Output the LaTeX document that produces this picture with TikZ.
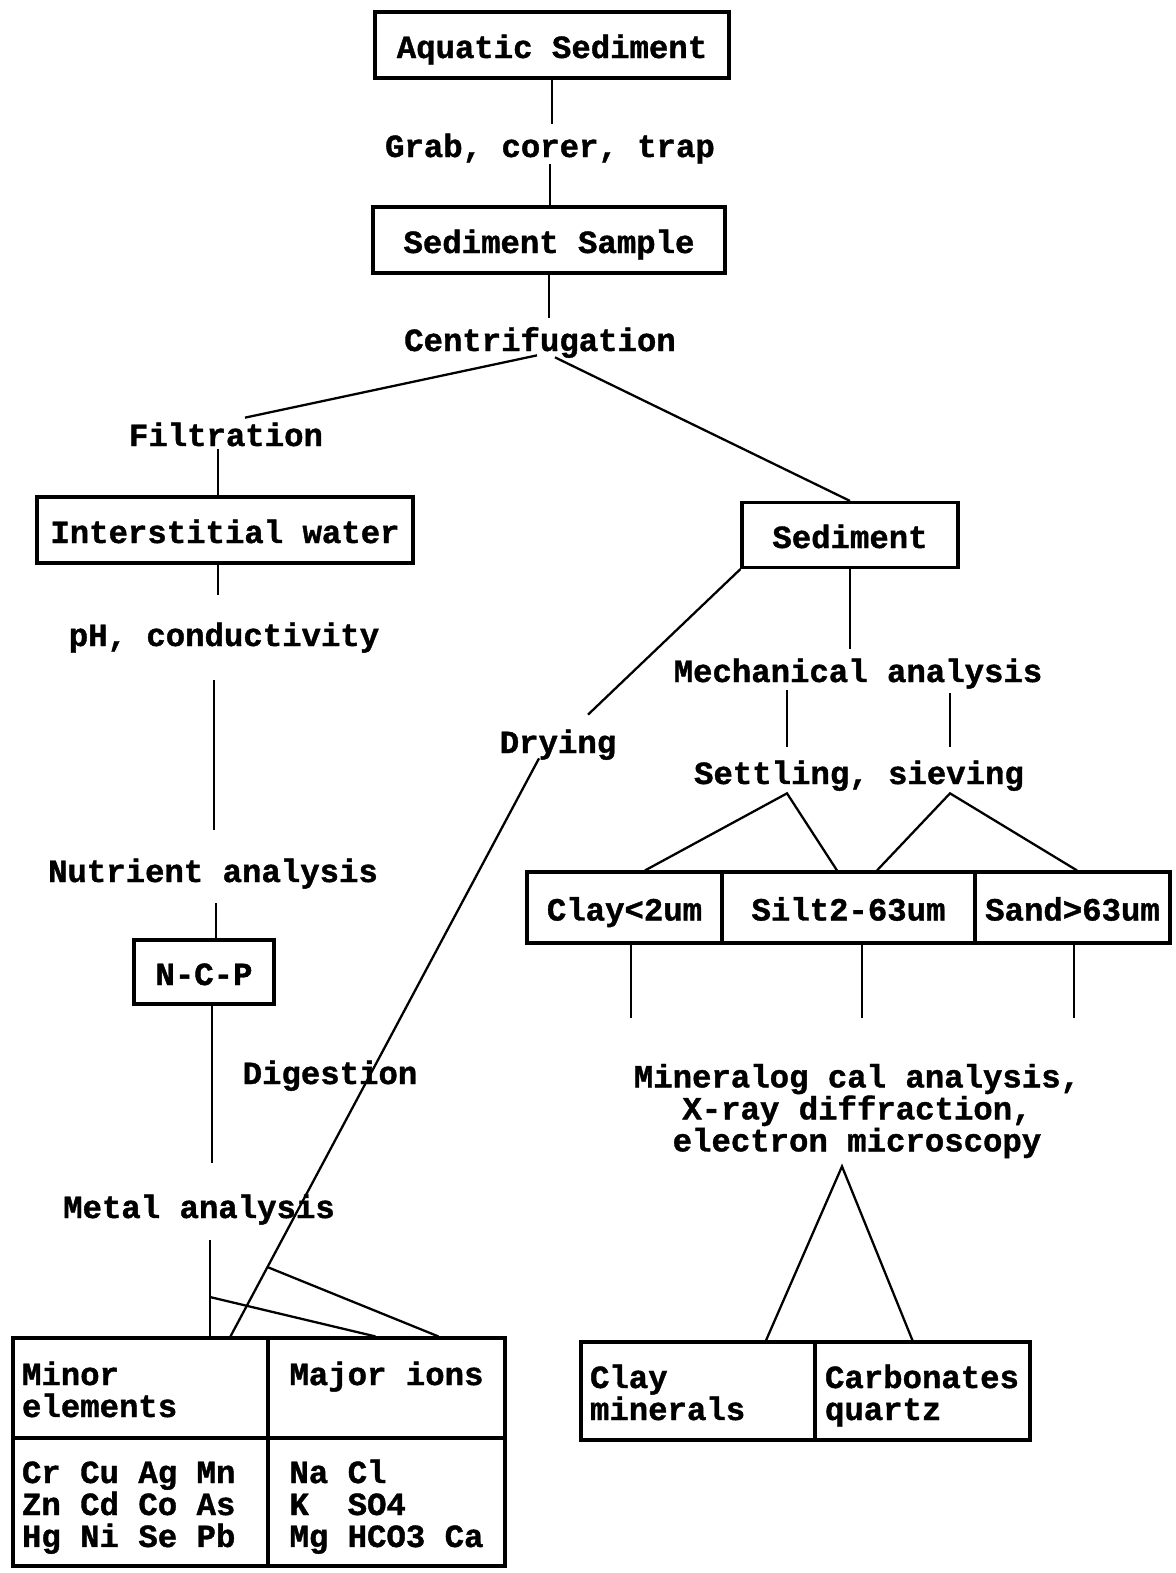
\documentclass[tikz,border=0pt]{standalone}
\usepackage{fontspec}
\setmonofont{Liberation Mono}[BoldFeatures={FakeBold=1.2}]
\usetikzlibrary{calc}
\newcommand{\toppad}{\rule{0pt}{0.8cm}}
\newcommand{\botpad}{\rule[-0.28cm]{0pt}{0pt}}

\begin{document}
\begin{tikzpicture}[x=0.02cm, y=-0.02cm,
  every node/.style={font=\ttfamily\bfseries\fontsize{18.4}{18.2}\selectfont},
  box/.style={draw, line width=1.8pt, inner sep=0pt, minimum height=1.32cm, text height=0.56cm, text depth=0.04cm},
  lbl/.style={inner sep=0pt, text height=0.56cm, text depth=0.04cm, minimum height=0.8cm},
  cell/.style={draw, line width=1.8pt, inner ysep=0pt, align=flush left},
  link/.style={line width=1.3pt}]
\useasboundingbox (0,0) rectangle (1176,1573);

% Sampling
\node[box, minimum width=7.08cm] (aquatic) at (552,45) {Aquatic Sediment};
\node[lbl] (grab) at (550,144) {Grab, corer, trap};
\node[box, minimum width=7.04cm] (sample) at (549,240) {Sediment Sample};
\node[lbl] (centri) at (540,338) {Centrifugation};

% Pore water side
\node[lbl] (filtr) at (226,433) {Filtration};
\node[box, minimum width=7.52cm] (water) at (225,530) {Interstitial water};
\node[lbl] (ph) at (224,633) {pH, conductivity};
\node[lbl] (nutr) at (213,869) {Nutrient analysis};
\node[box, minimum width=2.8cm, minimum height=1.28cm] (ncp) at (204,972) {N-C-P};
\node[lbl] (digest) at (330,1071) {Digestion};
\node[lbl] (metal) at (199,1205) {Metal analysis};

% Solid side
\node[box, minimum width=4.32cm, minimum height=1.3cm] (sed) at (850,535) {Sediment};
\node[lbl] (drying) at (558,740) {Drying};
\node[lbl] (mech) at (858,669) {Mechanical analysis};
\node[lbl] (settle) at (859,771) {Settling, sieving};
\node[box, minimum width=3.9cm, minimum height=1.42cm] (clay) at (624.5,907.5) {Clay<2um};
\node[box, minimum width=5.06cm, minimum height=1.42cm] (silt) at (848.5,907.5) {Silt2-63um};
\node[box, minimum width=3.9cm, minimum height=1.42cm] (sand) at (1072.5,907.5) {Sand>63um};
\node[align=center, inner sep=0pt] (miner) at (857,1111) {Mineralog cal analysis,\\X-ray diffraction,\\electron microscopy};
\node[cell, text width=4.32cm, inner xsep=0.18cm, minimum height=1.96cm] (claymin) at (698,1391) {\toppad Clay\\minerals\botpad};
\node[cell, text width=3.9cm, inner xsep=0.2cm, minimum height=1.96cm] (carb) at (922.5,1391) {\toppad Carbonates\\quartz\botpad};

% Element table
\node[cell, text width=4.74cm, inner xsep=0.18cm, minimum height=2cm] (minor) at (140.5,1388) {\toppad Minor\\elements\botpad};
\node[cell, minimum width=4.74cm, inner xsep=0pt, minimum height=2cm] (major) at (386.5,1388) {\toppad Major ions\\\botpad};
\node[cell, text width=4.74cm, inner xsep=0.18cm, minimum height=2.56cm] (elem) at (140.5,1502) {\toppad Cr Cu Ag Mn\\Zn Cd Co As\\Hg Ni Se Pb\botpad};
\node[cell, minimum width=4.74cm, inner xsep=0pt, minimum height=2.56cm] (ions) at (386.5,1502) {\toppad Na Cl\\K\ \ SO4\\Mg HCO3 Ca\botpad};

% Top stem
\draw[link] (aquatic.south) -- (aquatic.south |- grab.north);
\draw[link] (grab.south) -- (grab.south |- sample.north);
\draw[link] (sample.south) -- (sample.south |- centri.north);
\draw[link] ($(centri.south)+(-3,-3)$) -- ($(filtr.north)+(19,5)$);
\draw[link] ($(centri.south)+(15,-1)$) -- (sed.north);

% Left stem
\draw[link] ($(filtr.south)+(-8,-4)$) -- ($(water.north)+(-7,0)$);
\draw[link] ($(water.south)+(-7,0)$) -- ($(ph.north)+(-6,-18)$);
\draw[link] ($(ph.south)+(-10,27)$) -- ($(nutr.north)+(1,-19)$);
\draw[link] ($(nutr.south)+(3,14)$) -- ($(ncp.north)+(12,0)$);
\draw[link] ($(ncp.south)+(8,0)$) -- ($(metal.north)+(13,-22)$);
\coordinate (mtop) at ($(metal.south)+(11,15)$);
\coordinate (mbot) at (mtop |- minor.north);
\coordinate (mfork) at ($(mtop)!0.59!(mbot)$);
\draw[link] (mtop) -- (mbot);
\draw[link] (mfork) -- ($(major.north west)+(109,0)$);

% Drying
\draw[link] (sed.south west) -- ($(drying.north)+(30,-5)$);
\coordinate (dtop) at ($(drying.south)+(-19,-2)$);
\coordinate (dbot) at ($(minor.north west)+(219,0)$);
\coordinate (dfork) at ($(dtop)!0.88!(dbot)$);
\draw[link] (dtop) -- (dbot);
\draw[link] (dfork) -- ($(major.north west)+(172,0)$);

% Grain size
\draw[link] (sed.south) -- (sed.south |- mech.north);
\draw[link] ($(mech.south)+(-71,1)$) -- ($(settle.north)+(-72,-4)$);
\draw[link] ($(mech.south)+(92,4)$) -- ($(settle.north)+(91,-4)$);
\coordinate (sl) at ($(settle.south)+(-72,2)$);
\coordinate (sr) at ($(settle.south)+(91,2)$);
\draw[link] ($(clay.north)+(20.5,0)$) -- (sl) -- ($(silt.north)+(-11.5,0)$);
\draw[link] ($(silt.north)+(28.5,0)$) -- (sr) -- ($(sand.north)+(4.5,0)$);

% Mineralogy
\coordinate (cl) at ($(clay.south)+(6.5,0)$);
\coordinate (st) at ($(silt.south)+(13.5,0)$);
\coordinate (sd) at ($(sand.south)+(1.5,0)$);
\draw[link, shorten >=0.92cm] (cl) -- (cl |- miner.north);
\draw[link, shorten >=0.92cm] (st) -- (st |- miner.north);
\draw[link, shorten >=0.92cm] (sd) -- (sd |- miner.north);
\coordinate (apex) at ($(miner.south)+(-15,8)$);
\draw[link] ($(claymin.north)+(68,0)$) -- (apex) -- ($(carb.north)+(-10,0)$);
\end{tikzpicture}
\end{document}
